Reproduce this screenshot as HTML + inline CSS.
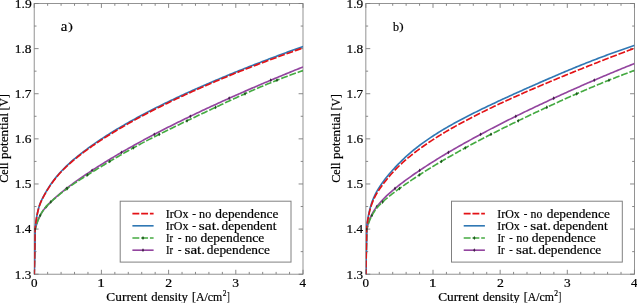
<!DOCTYPE html>
<html><head><meta charset="utf-8"><title>Polarization curves</title>
<style>
html,body{margin:0;padding:0;background:#fff;}
body{width:637px;height:303px;overflow:hidden;font-family:"Liberation Serif",serif;}
svg{display:block;will-change:transform;transform:translateZ(0)}
text{fill:#000}
</style></head><body>
<svg width="637" height="303" viewBox="0 0 637 303">
<rect width="637" height="303" fill="#fff"/>
<rect x="34.2" y="3.5" width="268.8" height="270.7" fill="none" stroke="#808080" stroke-width="0.85"/>
<path d="M34.20 274.2 v-4.4 M34.20 3.5 v4.4 M47.64 274.2 v-2.3 M47.64 3.5 v2.3 M61.08 274.2 v-2.3 M61.08 3.5 v2.3 M74.52 274.2 v-2.3 M74.52 3.5 v2.3 M87.96 274.2 v-2.3 M87.96 3.5 v2.3 M101.40 274.2 v-4.4 M101.40 3.5 v4.4 M114.84 274.2 v-2.3 M114.84 3.5 v2.3 M128.28 274.2 v-2.3 M128.28 3.5 v2.3 M141.72 274.2 v-2.3 M141.72 3.5 v2.3 M155.16 274.2 v-2.3 M155.16 3.5 v2.3 M168.60 274.2 v-4.4 M168.60 3.5 v4.4 M182.04 274.2 v-2.3 M182.04 3.5 v2.3 M195.48 274.2 v-2.3 M195.48 3.5 v2.3 M208.92 274.2 v-2.3 M208.92 3.5 v2.3 M222.36 274.2 v-2.3 M222.36 3.5 v2.3 M235.80 274.2 v-4.4 M235.80 3.5 v4.4 M249.24 274.2 v-2.3 M249.24 3.5 v2.3 M262.68 274.2 v-2.3 M262.68 3.5 v2.3 M276.12 274.2 v-2.3 M276.12 3.5 v2.3 M289.56 274.2 v-2.3 M289.56 3.5 v2.3 M303.00 274.2 v-4.4 M303.00 3.5 v4.4 M34.2 3.50 h4.4 M303.0 3.50 h-4.4 M34.2 26.06 h2.3 M303.0 26.06 h-2.3 M34.2 48.62 h4.4 M303.0 48.62 h-4.4 M34.2 71.17 h2.3 M303.0 71.17 h-2.3 M34.2 93.73 h4.4 M303.0 93.73 h-4.4 M34.2 116.29 h2.3 M303.0 116.29 h-2.3 M34.2 138.85 h4.4 M303.0 138.85 h-4.4 M34.2 161.41 h2.3 M303.0 161.41 h-2.3 M34.2 183.97 h4.4 M303.0 183.97 h-4.4 M34.2 206.52 h2.3 M303.0 206.52 h-2.3 M34.2 229.08 h4.4 M303.0 229.08 h-4.4 M34.2 251.64 h2.3 M303.0 251.64 h-2.3 M34.2 274.20 h4.4 M303.0 274.20 h-4.4" stroke="#7c7c7c" stroke-width="0.9" fill="none"/>
<clipPath id="ca"><rect x="34.2" y="3.5" width="268.8" height="270.7"/></clipPath>
<g clip-path="url(#ca)" fill="none" stroke-width="1.65" stroke-linejoin="round">
<path d="M34.20 276.20 L35.10 230.00 L35.57 228.22 L35.76 227.41 L35.95 226.64 L36.14 225.91 L36.33 225.21 L36.52 224.54 L36.71 223.90 L36.90 223.28 L37.09 222.69 L37.28 222.12 L37.47 221.56 L37.66 221.03 L37.85 220.52 L38.04 220.02 L38.23 219.54 L38.42 219.07 L38.61 218.62 L38.80 218.18 L38.99 217.76 L39.18 217.34 L39.37 216.94 L39.56 216.55 L39.75 216.17 L39.94 215.80 L40.12 215.44 L40.32 215.09 L40.51 214.75 L40.70 214.41 L40.89 214.08 L41.08 213.76 L41.26 213.45 L41.45 213.14 L41.64 212.84 L41.83 212.54 L42.02 212.25 L42.21 211.96 L42.40 211.68 L42.59 211.40 L42.78 211.13 L42.97 210.86 L43.16 210.60 L43.35 210.34 L43.54 210.08 L43.73 209.83 L43.92 209.58 L44.11 209.33 L44.30 209.09 L44.49 208.84 L44.68 208.61 L44.87 208.37 L45.06 208.14 L45.25 207.91 L45.44 207.68 L45.63 207.45 L45.82 207.23 L46.01 207.01 L46.20 206.79 L46.50 206.45 L47.93 204.87 L49.37 203.37 L50.80 201.93 L52.24 200.54 L53.67 199.20 L55.10 197.89 L56.54 196.62 L57.97 195.37 L59.41 194.16 L60.84 192.96 L62.28 191.79 L63.71 190.63 L65.14 189.50 L66.58 188.38 L68.01 187.28 L69.44 186.19 L70.88 185.12 L72.31 184.06 L73.75 183.01 L75.18 181.98 L76.62 180.95 L78.05 179.94 L79.48 178.93 L80.92 177.93 L82.35 176.95 L83.79 175.97 L85.22 174.99 L86.65 174.03 L88.09 173.07 L89.52 172.12 L90.96 171.18 L92.39 170.24 L93.83 169.31 L95.26 168.38 L96.69 167.46 L98.13 166.55 L99.56 165.64 L101.00 164.74 L102.43 163.84 L103.86 162.95 L105.30 162.06 L106.73 161.18 L108.17 160.30 L109.60 159.43 L111.03 158.56 L112.47 157.70 L113.90 156.84 L115.34 155.99 L116.77 155.15 L118.20 154.31 L119.64 153.47 L121.07 152.64 L122.51 151.81 L123.94 150.99 L125.37 150.17 L126.81 149.35 L128.24 148.54 L129.68 147.73 L131.11 146.93 L132.55 146.12 L133.98 145.33 L135.41 144.53 L136.85 143.74 L138.28 142.95 L139.72 142.17 L141.15 141.39 L142.58 140.61 L144.02 139.84 L145.45 139.06 L146.88 138.30 L148.32 137.53 L149.75 136.77 L151.19 136.01 L152.62 135.25 L154.06 134.50 L155.49 133.75 L156.92 133.00 L158.36 132.26 L159.79 131.51 L161.23 130.77 L162.66 130.04 L164.09 129.30 L165.53 128.57 L166.96 127.84 L168.40 127.11 L169.83 126.39 L171.26 125.67 L172.70 124.95 L174.13 124.23 L175.57 123.52 L177.00 122.81 L178.44 122.10 L179.87 121.39 L181.30 120.68 L182.74 119.98 L184.17 119.28 L185.61 118.58 L187.04 117.89 L188.47 117.19 L189.91 116.50 L191.34 115.81 L192.78 115.12 L194.21 114.44 L195.64 113.75 L197.08 113.07 L198.51 112.39 L199.95 111.72 L201.38 111.04 L202.81 110.37 L204.25 109.70 L205.68 109.03 L207.12 108.36 L208.55 107.69 L209.99 107.03 L211.42 106.37 L212.85 105.71 L214.29 105.05 L215.72 104.38 L217.16 103.72 L218.59 103.07 L220.02 102.41 L221.46 101.75 L222.89 101.10 L224.33 100.45 L225.76 99.80 L227.19 99.15 L228.63 98.51 L230.06 97.86 L231.50 97.22 L232.93 96.58 L234.36 95.94 L235.80 95.30 L237.23 94.66 L238.67 94.03 L240.10 93.39 L241.54 92.76 L242.97 92.13 L244.40 91.50 L245.84 90.88 L247.27 90.25 L248.70 89.63 L250.14 89.00 L251.57 88.38 L253.01 87.76 L254.44 87.14 L255.88 86.53 L257.31 85.91 L258.74 85.30 L260.18 84.68 L261.61 84.07 L263.05 83.46 L264.48 82.85 L265.91 82.24 L267.35 81.64 L268.78 81.03 L270.22 80.43 L271.65 79.83 L273.08 79.23 L274.52 78.63 L275.95 78.03 L277.39 77.43 L278.82 76.84 L280.25 76.24 L281.69 75.65 L283.12 75.06 L284.56 74.47 L285.99 73.88 L287.43 73.29 L288.86 72.70 L290.29 72.12 L291.73 71.53 L293.16 70.95 L294.60 70.36 L296.03 69.78 L297.46 69.20 L298.90 68.62 L300.33 68.05 L301.77 67.47 L303.20 66.90" stroke="#93459f"/>
<path d="M269.62 80.20 L270.77 78.30 L271.92 80.20 L270.77 82.10Z" fill="#43204a" stroke="none"/>
<path d="M228.06 98.24 L229.21 96.34 L230.36 98.24 L229.21 100.14Z" fill="#43204a" stroke="none"/>
<path d="M189.19 116.29 L190.34 114.39 L191.49 116.29 L190.34 118.19Z" fill="#43204a" stroke="none"/>
<path d="M153.21 134.34 L154.36 132.44 L155.51 134.34 L154.36 136.24Z" fill="#43204a" stroke="none"/>
<path d="M120.36 152.39 L121.51 150.49 L122.66 152.39 L121.51 154.29Z" fill="#43204a" stroke="none"/>
<path d="M90.95 170.43 L92.10 168.53 L93.25 170.43 L92.10 172.33Z" fill="#43204a" stroke="none"/>
<path d="M65.30 188.48 L66.45 186.58 L67.60 188.48 L66.45 190.38Z" fill="#43204a" stroke="none"/>
<path d="M45.28 206.53 L46.43 204.63 L47.58 206.53 L46.43 208.43Z" fill="#43204a" stroke="none"/>
<path d="M34.20 276.20 L35.10 230.00 L35.57 227.97 L35.76 227.25 L35.95 226.55 L36.14 225.88 L36.33 225.24 L36.52 224.62 L36.71 224.02 L36.90 223.44 L37.09 222.88 L37.28 222.33 L37.47 221.80 L37.66 221.29 L37.85 220.79 L38.04 220.30 L38.23 219.82 L38.42 219.36 L38.61 218.90 L38.80 218.46 L38.99 218.03 L39.18 217.60 L39.37 217.19 L39.56 216.79 L39.75 216.39 L39.94 216.00 L40.12 215.62 L40.32 215.25 L40.51 214.88 L40.70 214.53 L40.89 214.18 L41.08 213.83 L41.26 213.49 L41.45 213.16 L41.64 212.84 L41.83 212.52 L42.02 212.20 L42.21 211.89 L42.40 211.59 L42.59 211.29 L42.78 211.00 L42.97 210.72 L43.16 210.43 L43.35 210.16 L43.54 209.88 L43.73 209.61 L43.92 209.35 L44.11 209.09 L44.30 208.84 L44.49 208.59 L44.68 208.34 L44.87 208.09 L45.06 207.86 L45.25 207.62 L45.44 207.39 L45.63 207.16 L45.82 206.94 L46.01 206.72 L46.20 206.50 L46.50 206.16 L47.93 204.66 L49.37 203.26 L50.80 201.95 L52.24 200.69 L53.67 199.47 L55.10 198.25 L56.54 197.04 L57.97 195.83 L59.41 194.63 L60.84 193.45 L62.28 192.28 L63.71 191.15 L65.14 190.04 L66.58 188.97 L68.01 187.91 L69.44 186.88 L70.88 185.86 L72.31 184.86 L73.75 183.88 L75.18 182.91 L76.62 181.95 L78.05 181.00 L79.48 180.07 L80.92 179.14 L82.35 178.22 L83.79 177.30 L85.22 176.40 L86.65 175.50 L88.09 174.60 L89.52 173.71 L90.96 172.82 L92.39 171.94 L93.83 171.05 L95.26 170.18 L96.69 169.30 L98.13 168.42 L99.56 167.55 L101.00 166.68 L102.43 165.81 L103.86 164.94 L105.30 164.08 L106.73 163.22 L108.17 162.35 L109.60 161.50 L111.03 160.64 L112.47 159.79 L113.90 158.94 L115.34 158.10 L116.77 157.26 L118.20 156.43 L119.64 155.60 L121.07 154.77 L122.51 153.95 L123.94 153.13 L125.37 152.32 L126.81 151.51 L128.24 150.70 L129.68 149.90 L131.11 149.10 L132.55 148.31 L133.98 147.52 L135.41 146.74 L136.85 145.96 L138.28 145.18 L139.72 144.41 L141.15 143.64 L142.58 142.88 L144.02 142.12 L145.45 141.37 L146.88 140.62 L148.32 139.88 L149.75 139.14 L151.19 138.40 L152.62 137.67 L154.06 136.94 L155.49 136.21 L156.92 135.49 L158.36 134.77 L159.79 134.05 L161.23 133.33 L162.66 132.62 L164.09 131.91 L165.53 131.20 L166.96 130.50 L168.40 129.79 L169.83 129.09 L171.26 128.39 L172.70 127.69 L174.13 127.00 L175.57 126.30 L177.00 125.61 L178.44 124.92 L179.87 124.23 L181.30 123.54 L182.74 122.85 L184.17 122.17 L185.61 121.48 L187.04 120.80 L188.47 120.11 L189.91 119.43 L191.34 118.75 L192.78 118.06 L194.21 117.38 L195.64 116.70 L197.08 116.02 L198.51 115.34 L199.95 114.67 L201.38 113.99 L202.81 113.31 L204.25 112.63 L205.68 111.96 L207.12 111.28 L208.55 110.61 L209.99 109.93 L211.42 109.26 L212.85 108.59 L214.29 107.92 L215.72 107.24 L217.16 106.57 L218.59 105.89 L220.02 105.22 L221.46 104.55 L222.89 103.88 L224.33 103.21 L225.76 102.54 L227.19 101.87 L228.63 101.21 L230.06 100.54 L231.50 99.88 L232.93 99.22 L234.36 98.56 L235.80 97.90 L237.23 97.25 L238.67 96.59 L240.10 95.94 L241.54 95.30 L242.97 94.65 L244.40 94.01 L245.84 93.36 L247.27 92.73 L248.70 92.09 L250.14 91.46 L251.57 90.83 L253.01 90.20 L254.44 89.58 L255.88 88.95 L257.31 88.34 L258.74 87.72 L260.18 87.11 L261.61 86.50 L263.05 85.90 L264.48 85.29 L265.91 84.70 L267.35 84.10 L268.78 83.51 L270.22 82.92 L271.65 82.34 L273.08 81.76 L274.52 81.18 L275.95 80.61 L277.39 80.04 L278.82 79.47 L280.25 78.91 L281.69 78.36 L283.12 77.80 L284.56 77.25 L285.99 76.71 L287.43 76.16 L288.86 75.63 L290.29 75.09 L291.73 74.57 L293.16 74.04 L294.60 73.52 L296.03 73.00 L297.46 72.49 L298.90 71.98 L300.33 71.48 L301.77 70.98 L303.20 70.49" stroke="#45aa42" stroke-dasharray="6.9 1.85"/>
<path d="M275.84 80.20 L276.99 78.30 L278.14 80.20 L276.99 82.10Z" fill="#1d551c" stroke="none"/>
<path d="M243.86 93.73 L245.01 91.83 L246.16 93.73 L245.01 95.63Z" fill="#1d551c" stroke="none"/>
<path d="M214.52 107.27 L215.67 105.37 L216.82 107.27 L215.67 109.17Z" fill="#1d551c" stroke="none"/>
<path d="M185.87 120.80 L187.02 118.90 L188.17 120.80 L187.02 122.70Z" fill="#1d551c" stroke="none"/>
<path d="M158.06 134.34 L159.21 132.44 L160.36 134.34 L159.21 136.24Z" fill="#1d551c" stroke="none"/>
<path d="M132.19 147.87 L133.34 145.97 L134.49 147.87 L133.34 149.77Z" fill="#1d551c" stroke="none"/>
<path d="M108.60 161.41 L109.75 159.51 L110.90 161.41 L109.75 163.31Z" fill="#1d551c" stroke="none"/>
<path d="M86.39 174.94 L87.54 173.04 L88.69 174.94 L87.54 176.84Z" fill="#1d551c" stroke="none"/>
<path d="M66.09 188.48 L67.24 186.58 L68.39 188.48 L67.24 190.38Z" fill="#1d551c" stroke="none"/>
<path d="M49.59 202.01 L50.74 200.11 L51.89 202.01 L50.74 203.91Z" fill="#1d551c" stroke="none"/>
<path d="M39.01 215.55 L40.16 213.65 L41.31 215.55 L40.16 217.45Z" fill="#1d551c" stroke="none"/>
<path d="M34.20 276.20 L35.10 230.00 L35.19 226.99 L35.38 225.52 L35.57 224.10 L35.76 222.75 L35.95 221.44 L36.14 220.20 L36.33 219.01 L36.52 217.87 L36.71 216.78 L36.90 215.74 L37.09 214.74 L37.28 213.79 L37.47 212.88 L37.66 212.01 L37.85 211.17 L38.04 210.37 L38.23 209.61 L38.42 208.88 L38.61 208.18 L38.80 207.51 L38.99 206.87 L39.18 206.26 L39.37 205.68 L39.56 205.12 L39.75 204.58 L39.94 204.06 L40.12 203.56 L40.32 203.07 L40.51 202.60 L40.70 202.14 L40.89 201.69 L41.08 201.26 L41.26 200.84 L41.45 200.42 L41.64 200.02 L41.83 199.62 L42.02 199.23 L42.21 198.84 L42.40 198.46 L42.59 198.09 L42.78 197.72 L42.97 197.36 L43.16 197.00 L43.35 196.64 L43.54 196.29 L43.73 195.94 L43.92 195.59 L44.11 195.24 L44.30 194.90 L44.49 194.56 L44.68 194.22 L44.87 193.88 L45.06 193.54 L45.25 193.21 L45.44 192.87 L45.63 192.54 L45.82 192.21 L46.01 191.88 L46.20 191.55 L46.50 191.04 L47.93 188.66 L49.37 186.39 L50.80 184.23 L52.24 182.19 L53.67 180.25 L55.10 178.40 L56.54 176.63 L57.97 174.93 L59.41 173.30 L60.84 171.72 L62.28 170.20 L63.71 168.73 L65.14 167.31 L66.58 165.92 L68.01 164.57 L69.44 163.26 L70.88 161.97 L72.31 160.72 L73.75 159.49 L75.18 158.28 L76.62 157.10 L78.05 155.93 L79.48 154.78 L80.92 153.66 L82.35 152.54 L83.79 151.44 L85.22 150.36 L86.65 149.29 L88.09 148.24 L89.52 147.19 L90.96 146.16 L92.39 145.15 L93.83 144.14 L95.26 143.14 L96.69 142.16 L98.13 141.18 L99.56 140.22 L101.00 139.26 L102.43 138.32 L103.86 137.38 L105.30 136.45 L106.73 135.53 L108.17 134.62 L109.60 133.72 L111.03 132.82 L112.47 131.93 L113.90 131.05 L115.34 130.18 L116.77 129.31 L118.20 128.46 L119.64 127.60 L121.07 126.76 L122.51 125.92 L123.94 125.09 L125.37 124.26 L126.81 123.44 L128.24 122.62 L129.68 121.81 L131.11 121.01 L132.55 120.21 L133.98 119.42 L135.41 118.63 L136.85 117.85 L138.28 117.07 L139.72 116.29 L141.15 115.52 L142.58 114.76 L144.02 114.00 L145.45 113.24 L146.88 112.49 L148.32 111.75 L149.75 111.00 L151.19 110.26 L152.62 109.53 L154.06 108.80 L155.49 108.07 L156.92 107.35 L158.36 106.63 L159.79 105.91 L161.23 105.20 L162.66 104.49 L164.09 103.79 L165.53 103.09 L166.96 102.39 L168.40 101.69 L169.83 101.00 L171.26 100.31 L172.70 99.63 L174.13 98.95 L175.57 98.27 L177.00 97.59 L178.44 96.92 L179.87 96.25 L181.30 95.58 L182.74 94.92 L184.17 94.26 L185.61 93.60 L187.04 92.94 L188.47 92.29 L189.91 91.64 L191.34 90.99 L192.78 90.35 L194.21 89.70 L195.64 89.06 L197.08 88.42 L198.51 87.79 L199.95 87.16 L201.38 86.53 L202.81 85.90 L204.25 85.27 L205.68 84.65 L207.12 84.03 L208.55 83.41 L209.99 82.79 L211.42 82.18 L212.85 81.57 L214.29 80.96 L215.72 80.35 L217.16 79.74 L218.59 79.14 L220.02 78.53 L221.46 77.93 L222.89 77.33 L224.33 76.74 L225.76 76.14 L227.19 75.55 L228.63 74.96 L230.06 74.37 L231.50 73.78 L232.93 73.19 L234.36 72.61 L235.80 72.03 L237.23 71.45 L238.67 70.87 L240.10 70.29 L241.54 69.72 L242.97 69.14 L244.40 68.57 L245.84 68.00 L247.27 67.43 L248.70 66.87 L250.14 66.30 L251.57 65.74 L253.01 65.18 L254.44 64.62 L255.88 64.06 L257.31 63.50 L258.74 62.95 L260.18 62.40 L261.61 61.84 L263.05 61.29 L264.48 60.74 L265.91 60.20 L267.35 59.65 L268.78 59.10 L270.22 58.56 L271.65 58.02 L273.08 57.48 L274.52 56.94 L275.95 56.40 L277.39 55.86 L278.82 55.33 L280.25 54.80 L281.69 54.26 L283.12 53.73 L284.56 53.20 L285.99 52.67 L287.43 52.15 L288.86 51.62 L290.29 51.10 L291.73 50.57 L293.16 50.05 L294.60 49.53 L296.03 49.01 L297.46 48.49 L298.90 47.98 L300.33 47.46 L301.77 46.95 L303.20 46.43" stroke="#3078b4"/>
<path d="M34.20 276.20 L35.10 230.00 L35.19 227.30 L35.38 225.83 L35.57 224.42 L35.76 223.06 L35.95 221.76 L36.14 220.52 L36.33 219.33 L36.52 218.19 L36.71 217.10 L36.90 216.06 L37.09 215.07 L37.28 214.12 L37.47 213.21 L37.66 212.34 L37.85 211.50 L38.04 210.71 L38.23 209.94 L38.42 209.21 L38.61 208.52 L38.80 207.85 L38.99 207.21 L39.18 206.60 L39.37 206.02 L39.56 205.46 L39.75 204.93 L39.94 204.41 L40.12 203.91 L40.32 203.42 L40.51 202.95 L40.70 202.50 L40.89 202.05 L41.08 201.62 L41.26 201.20 L41.45 200.79 L41.64 200.38 L41.83 199.99 L42.02 199.59 L42.21 199.21 L42.40 198.84 L42.59 198.46 L42.78 198.10 L42.97 197.73 L43.16 197.38 L43.35 197.02 L43.54 196.67 L43.73 196.32 L43.92 195.97 L44.11 195.63 L44.30 195.29 L44.49 194.95 L44.68 194.61 L44.87 194.27 L45.06 193.94 L45.25 193.60 L45.44 193.27 L45.63 192.94 L45.82 192.61 L46.01 192.28 L46.20 191.96 L46.50 191.45 L47.93 189.08 L49.37 186.82 L50.80 184.68 L52.24 182.65 L53.67 180.72 L55.10 178.88 L56.54 177.12 L57.97 175.44 L59.41 173.82 L60.84 172.25 L62.28 170.75 L63.71 169.29 L65.14 167.88 L66.58 166.50 L68.01 165.17 L69.44 163.87 L70.88 162.60 L72.31 161.35 L73.75 160.13 L75.18 158.94 L76.62 157.77 L78.05 156.62 L79.48 155.48 L80.92 154.37 L82.35 153.26 L83.79 152.18 L85.22 151.11 L86.65 150.05 L88.09 149.01 L89.52 147.98 L90.96 146.96 L92.39 145.95 L93.83 144.96 L95.26 143.98 L96.69 143.00 L98.13 142.04 L99.56 141.09 L101.00 140.15 L102.43 139.21 L103.86 138.29 L105.30 137.37 L106.73 136.47 L108.17 135.57 L109.60 134.68 L111.03 133.79 L112.47 132.92 L113.90 132.05 L115.34 131.18 L116.77 130.31 L118.20 129.46 L119.64 128.60 L121.07 127.76 L122.51 126.92 L123.94 126.09 L125.37 125.26 L126.81 124.44 L128.24 123.62 L129.68 122.81 L131.11 122.01 L132.55 121.21 L133.98 120.42 L135.41 119.63 L136.85 118.85 L138.28 118.07 L139.72 117.29 L141.15 116.52 L142.58 115.76 L144.02 115.00 L145.45 114.24 L146.88 113.49 L148.32 112.75 L149.75 112.00 L151.19 111.26 L152.62 110.53 L154.06 109.80 L155.49 109.07 L156.92 108.35 L158.36 107.63 L159.79 106.91 L161.23 106.20 L162.66 105.49 L164.09 104.79 L165.53 104.09 L166.96 103.39 L168.40 102.69 L169.83 102.00 L171.26 101.31 L172.70 100.63 L174.13 99.95 L175.57 99.27 L177.00 98.59 L178.44 97.92 L179.87 97.25 L181.30 96.58 L182.74 95.92 L184.17 95.26 L185.61 94.60 L187.04 93.94 L188.47 93.29 L189.91 92.64 L191.34 91.99 L192.78 91.35 L194.21 90.70 L195.64 90.06 L197.08 89.42 L198.51 88.79 L199.95 88.16 L201.38 87.53 L202.81 86.90 L204.25 86.27 L205.68 85.65 L207.12 85.03 L208.55 84.41 L209.99 83.79 L211.42 83.18 L212.85 82.57 L214.29 81.96 L215.72 81.35 L217.16 80.74 L218.59 80.14 L220.02 79.53 L221.46 78.93 L222.89 78.33 L224.33 77.74 L225.76 77.14 L227.19 76.55 L228.63 75.96 L230.06 75.37 L231.50 74.78 L232.93 74.19 L234.36 73.61 L235.80 73.04 L237.23 72.47 L238.67 71.89 L240.10 71.33 L241.54 70.76 L242.97 70.20 L244.40 69.63 L245.84 69.07 L247.27 68.51 L248.70 67.95 L250.14 67.40 L251.57 66.84 L253.01 66.29 L254.44 65.74 L255.88 65.19 L257.31 64.64 L258.74 64.09 L260.18 63.55 L261.61 63.00 L263.05 62.46 L264.48 61.92 L265.91 61.38 L267.35 60.84 L268.78 60.31 L270.22 59.77 L271.65 59.24 L273.08 58.71 L274.52 58.18 L275.95 57.65 L277.39 57.12 L278.82 56.59 L280.25 56.07 L281.69 55.54 L283.12 55.02 L284.56 54.50 L285.99 53.98 L287.43 53.46 L288.86 52.94 L290.29 52.43 L291.73 51.91 L293.16 51.40 L294.60 50.88 L296.03 50.38 L297.46 49.87 L298.90 49.36 L300.33 48.85 L301.77 48.34 L303.20 47.84" stroke="#e31216" stroke-dasharray="6.9 1.85"/>
<path d="M34.10 229.08 L35.10 227.38 L36.10 229.08 L35.10 230.78Z" fill="#3a2a1c" stroke="none"/>
</g>
<rect x="120.20" y="201.2" width="170.8" height="60.9" fill="#fff" stroke="#808080" stroke-width="1"/>
<g fill="none" stroke-width="1.65">
<path d="M132.40 213.6 H153.60" stroke="#e31216" stroke-dasharray="6.9 1.85"/>
<path d="M132.40 225.8 H153.60" stroke="#3078b4"/>
<path d="M132.40 238.0 H153.60" stroke="#45aa42" stroke-dasharray="6.9 1.85"/>
<path d="M132.40 250.2 H153.60" stroke="#93459f"/>
</g>
<path d="M141.85 238.00 L143.00 236.10 L144.15 238.00 L143.00 239.90Z" fill="#1d551c" stroke="none"/>
<path d="M141.85 250.20 L143.00 248.30 L144.15 250.20 L143.00 252.10Z" fill="#43204a" stroke="none"/>
<rect x="365.85" y="3.5" width="268.6" height="270.7" fill="none" stroke="#808080" stroke-width="0.85"/>
<path d="M365.85 274.2 v-4.4 M365.85 3.5 v4.4 M379.28 274.2 v-2.3 M379.28 3.5 v2.3 M392.71 274.2 v-2.3 M392.71 3.5 v2.3 M406.14 274.2 v-2.3 M406.14 3.5 v2.3 M419.57 274.2 v-2.3 M419.57 3.5 v2.3 M433.00 274.2 v-4.4 M433.00 3.5 v4.4 M446.43 274.2 v-2.3 M446.43 3.5 v2.3 M459.86 274.2 v-2.3 M459.86 3.5 v2.3 M473.29 274.2 v-2.3 M473.29 3.5 v2.3 M486.72 274.2 v-2.3 M486.72 3.5 v2.3 M500.15 274.2 v-4.4 M500.15 3.5 v4.4 M513.58 274.2 v-2.3 M513.58 3.5 v2.3 M527.01 274.2 v-2.3 M527.01 3.5 v2.3 M540.44 274.2 v-2.3 M540.44 3.5 v2.3 M553.87 274.2 v-2.3 M553.87 3.5 v2.3 M567.30 274.2 v-4.4 M567.30 3.5 v4.4 M580.73 274.2 v-2.3 M580.73 3.5 v2.3 M594.16 274.2 v-2.3 M594.16 3.5 v2.3 M607.59 274.2 v-2.3 M607.59 3.5 v2.3 M621.02 274.2 v-2.3 M621.02 3.5 v2.3 M634.45 274.2 v-4.4 M634.45 3.5 v4.4 M365.85 3.50 h4.4 M634.45 3.50 h-4.4 M365.85 26.06 h2.3 M634.45 26.06 h-2.3 M365.85 48.62 h4.4 M634.45 48.62 h-4.4 M365.85 71.17 h2.3 M634.45 71.17 h-2.3 M365.85 93.73 h4.4 M634.45 93.73 h-4.4 M365.85 116.29 h2.3 M634.45 116.29 h-2.3 M365.85 138.85 h4.4 M634.45 138.85 h-4.4 M365.85 161.41 h2.3 M634.45 161.41 h-2.3 M365.85 183.97 h4.4 M634.45 183.97 h-4.4 M365.85 206.52 h2.3 M634.45 206.52 h-2.3 M365.85 229.08 h4.4 M634.45 229.08 h-4.4 M365.85 251.64 h2.3 M634.45 251.64 h-2.3 M365.85 274.20 h4.4 M634.45 274.20 h-4.4" stroke="#7c7c7c" stroke-width="0.9" fill="none"/>
<clipPath id="cb"><rect x="365.85" y="3.5" width="268.6" height="270.7"/></clipPath>
<g clip-path="url(#cb)" fill="none" stroke-width="1.65" stroke-linejoin="round">
<path d="M365.85 276.20 L366.75 230.00 L367.22 227.85 L367.41 226.91 L367.60 226.04 L367.79 225.23 L367.98 224.47 L368.17 223.77 L368.36 223.10 L368.55 222.46 L368.74 221.85 L368.93 221.28 L369.12 220.72 L369.31 220.19 L369.50 219.67 L369.69 219.18 L369.88 218.69 L370.07 218.23 L370.26 217.78 L370.45 217.34 L370.64 216.91 L370.83 216.50 L371.02 216.09 L371.21 215.69 L371.40 215.31 L371.59 214.93 L371.78 214.56 L371.97 214.19 L372.16 213.84 L372.35 213.49 L372.54 213.15 L372.73 212.81 L372.91 212.48 L373.10 212.16 L373.29 211.84 L373.48 211.52 L373.67 211.21 L373.86 210.90 L374.05 210.60 L374.24 210.31 L374.43 210.01 L374.62 209.72 L374.81 209.44 L375.00 209.16 L375.19 208.88 L375.38 208.60 L375.57 208.33 L375.76 208.06 L375.95 207.80 L376.14 207.54 L376.33 207.28 L376.52 207.02 L376.71 206.77 L376.90 206.51 L377.09 206.27 L377.28 206.02 L377.47 205.77 L377.66 205.53 L377.85 205.29 L378.15 204.92 L379.58 203.19 L381.02 201.56 L382.45 200.01 L383.89 198.52 L385.32 197.09 L386.75 195.71 L388.19 194.38 L389.62 193.08 L391.06 191.81 L392.49 190.58 L393.93 189.37 L395.36 188.19 L396.79 187.03 L398.23 185.89 L399.66 184.77 L401.10 183.66 L402.53 182.57 L403.96 181.50 L405.40 180.44 L406.83 179.39 L408.27 178.35 L409.70 177.32 L411.13 176.30 L412.57 175.29 L414.00 174.29 L415.44 173.30 L416.87 172.32 L418.30 171.35 L419.74 170.38 L421.17 169.42 L422.61 168.47 L424.04 167.52 L425.48 166.59 L426.91 165.65 L428.34 164.73 L429.78 163.81 L431.21 162.90 L432.65 161.99 L434.08 161.09 L435.51 160.19 L436.95 159.30 L438.38 158.41 L439.82 157.53 L441.25 156.66 L442.68 155.79 L444.12 154.92 L445.55 154.06 L446.99 153.21 L448.42 152.36 L449.85 151.52 L451.29 150.68 L452.72 149.85 L454.16 149.02 L455.59 148.20 L457.02 147.37 L458.46 146.56 L459.89 145.74 L461.33 144.93 L462.76 144.13 L464.20 143.32 L465.63 142.52 L467.06 141.73 L468.50 140.93 L469.93 140.14 L471.37 139.36 L472.80 138.57 L474.23 137.79 L475.67 137.01 L477.10 136.24 L478.54 135.47 L479.97 134.70 L481.40 133.93 L482.84 133.17 L484.27 132.41 L485.71 131.65 L487.14 130.89 L488.57 130.14 L490.01 129.39 L491.44 128.64 L492.88 127.90 L494.31 127.15 L495.74 126.41 L497.18 125.67 L498.61 124.94 L500.05 124.20 L501.48 123.47 L502.92 122.74 L504.35 122.02 L505.78 121.29 L507.22 120.57 L508.65 119.85 L510.09 119.13 L511.52 118.42 L512.95 117.71 L514.39 116.99 L515.82 116.28 L517.26 115.58 L518.69 114.87 L520.12 114.17 L521.56 113.47 L522.99 112.77 L524.43 112.08 L525.86 111.38 L527.29 110.69 L528.73 110.00 L530.16 109.31 L531.60 108.63 L533.03 107.94 L534.47 107.26 L535.90 106.58 L537.33 105.90 L538.77 105.23 L540.20 104.55 L541.63 103.88 L543.07 103.21 L544.50 102.54 L545.94 101.88 L547.37 101.20 L548.81 100.53 L550.24 99.87 L551.67 99.20 L553.11 98.53 L554.54 97.87 L555.98 97.21 L557.41 96.55 L558.84 95.90 L560.28 95.24 L561.71 94.59 L563.15 93.94 L564.58 93.28 L566.01 92.64 L567.45 91.99 L568.88 91.34 L570.32 90.70 L571.75 90.06 L573.19 89.42 L574.62 88.78 L576.05 88.15 L577.49 87.51 L578.92 86.88 L580.36 86.25 L581.79 85.62 L583.22 84.99 L584.66 84.36 L586.09 83.74 L587.53 83.11 L588.96 82.49 L590.39 81.87 L591.83 81.25 L593.26 80.64 L594.70 80.02 L596.13 79.41 L597.56 78.79 L599.00 78.18 L600.43 77.57 L601.87 76.96 L603.30 76.36 L604.73 75.75 L606.17 75.15 L607.60 74.55 L609.04 73.95 L610.47 73.35 L611.90 72.75 L613.34 72.15 L614.77 71.56 L616.21 70.97 L617.64 70.37 L619.08 69.78 L620.51 69.19 L621.94 68.61 L623.38 68.02 L624.81 67.44 L626.25 66.85 L627.68 66.27 L629.11 65.69 L630.55 65.11 L631.98 64.53 L633.42 63.95 L634.85 63.38" stroke="#93459f"/>
<path d="M593.13 80.20 L594.28 78.30 L595.43 80.20 L594.28 82.10Z" fill="#43204a" stroke="none"/>
<path d="M552.59 98.24 L553.74 96.34 L554.89 98.24 L553.74 100.14Z" fill="#43204a" stroke="none"/>
<path d="M514.66 116.29 L515.81 114.39 L516.96 116.29 L515.81 118.19Z" fill="#43204a" stroke="none"/>
<path d="M479.49 134.34 L480.64 132.44 L481.79 134.34 L480.64 136.24Z" fill="#43204a" stroke="none"/>
<path d="M447.23 152.39 L448.38 150.49 L449.53 152.39 L448.38 154.29Z" fill="#43204a" stroke="none"/>
<path d="M418.51 170.43 L419.66 168.53 L420.81 170.43 L419.66 172.33Z" fill="#43204a" stroke="none"/>
<path d="M393.86 188.48 L395.01 186.58 L396.16 188.48 L395.01 190.38Z" fill="#43204a" stroke="none"/>
<path d="M375.74 206.53 L376.89 204.63 L378.04 206.53 L376.89 208.43Z" fill="#43204a" stroke="none"/>
<path d="M365.85 276.20 L366.75 230.00 L367.22 227.99 L367.41 227.19 L367.60 226.45 L367.79 225.75 L367.98 225.08 L368.17 224.45 L368.36 223.85 L368.55 223.27 L368.74 222.72 L368.93 222.18 L369.12 221.66 L369.31 221.16 L369.50 220.68 L369.69 220.21 L369.88 219.76 L370.07 219.31 L370.26 218.88 L370.45 218.46 L370.64 218.05 L370.83 217.65 L371.02 217.26 L371.21 216.88 L371.40 216.50 L371.59 216.13 L371.78 215.78 L371.97 215.42 L372.16 215.08 L372.35 214.74 L372.54 214.41 L372.73 214.08 L372.91 213.76 L373.10 213.44 L373.29 213.13 L373.48 212.83 L373.67 212.53 L373.86 212.23 L374.05 211.94 L374.24 211.66 L374.43 211.37 L374.62 211.09 L374.81 210.82 L375.00 210.55 L375.19 210.28 L375.38 210.02 L375.57 209.76 L375.76 209.51 L375.95 209.25 L376.14 209.00 L376.33 208.76 L376.52 208.51 L376.71 208.28 L376.90 208.04 L377.09 207.81 L377.28 207.57 L377.47 207.34 L377.66 207.12 L377.85 206.90 L378.15 206.55 L379.58 204.97 L381.02 203.49 L382.45 202.09 L383.89 200.77 L385.32 199.50 L386.75 198.28 L388.19 197.09 L389.62 195.93 L391.06 194.80 L392.49 193.69 L393.93 192.60 L395.36 191.52 L396.79 190.46 L398.23 189.41 L399.66 188.36 L401.10 187.33 L402.53 186.31 L403.96 185.30 L405.40 184.30 L406.83 183.31 L408.27 182.32 L409.70 181.34 L411.13 180.37 L412.57 179.41 L414.00 178.46 L415.44 177.51 L416.87 176.57 L418.30 175.64 L419.74 174.71 L421.17 173.79 L422.61 172.88 L424.04 171.97 L425.48 171.07 L426.91 170.17 L428.34 169.28 L429.78 168.39 L431.21 167.51 L432.65 166.63 L434.08 165.76 L435.51 164.89 L436.95 164.03 L438.38 163.17 L439.82 162.32 L441.25 161.47 L442.68 160.63 L444.12 159.78 L445.55 158.95 L446.99 158.12 L448.42 157.30 L449.85 156.48 L451.29 155.66 L452.72 154.85 L454.16 154.04 L455.59 153.24 L457.02 152.44 L458.46 151.64 L459.89 150.84 L461.33 150.05 L462.76 149.26 L464.20 148.48 L465.63 147.70 L467.06 146.92 L468.50 146.14 L469.93 145.37 L471.37 144.60 L472.80 143.83 L474.23 143.07 L475.67 142.31 L477.10 141.55 L478.54 140.79 L479.97 140.04 L481.40 139.29 L482.84 138.54 L484.27 137.79 L485.71 137.05 L487.14 136.31 L488.57 135.57 L490.01 134.83 L491.44 134.10 L492.88 133.37 L494.31 132.64 L495.74 131.91 L497.18 131.19 L498.61 130.47 L500.05 129.75 L501.48 129.03 L502.92 128.31 L504.35 127.60 L505.78 126.89 L507.22 126.18 L508.65 125.47 L510.09 124.76 L511.52 124.06 L512.95 123.36 L514.39 122.66 L515.82 121.96 L517.26 121.26 L518.69 120.57 L520.12 119.88 L521.56 119.18 L522.99 118.50 L524.43 117.81 L525.86 117.12 L527.29 116.44 L528.73 115.76 L530.16 115.08 L531.60 114.40 L533.03 113.72 L534.47 113.05 L535.90 112.37 L537.33 111.70 L538.77 111.03 L540.20 110.36 L541.63 109.70 L543.07 109.03 L544.50 108.37 L545.94 107.70 L547.37 107.04 L548.81 106.37 L550.24 105.71 L551.67 105.04 L553.11 104.38 L554.54 103.72 L555.98 103.07 L557.41 102.41 L558.84 101.76 L560.28 101.10 L561.71 100.45 L563.15 99.80 L564.58 99.15 L566.01 98.51 L567.45 97.86 L568.88 97.22 L570.32 96.58 L571.75 95.95 L573.19 95.31 L574.62 94.68 L576.05 94.04 L577.49 93.41 L578.92 92.79 L580.36 92.16 L581.79 91.54 L583.22 90.92 L584.66 90.30 L586.09 89.69 L587.53 89.07 L588.96 88.46 L590.39 87.85 L591.83 87.25 L593.26 86.64 L594.70 86.04 L596.13 85.44 L597.56 84.85 L599.00 84.26 L600.43 83.66 L601.87 83.08 L603.30 82.49 L604.73 81.91 L606.17 81.33 L607.60 80.75 L609.04 80.17 L610.47 79.60 L611.90 79.03 L613.34 78.47 L614.77 77.90 L616.21 77.34 L617.64 76.78 L619.08 76.23 L620.51 75.67 L621.94 75.12 L623.38 74.57 L624.81 74.03 L626.25 73.49 L627.68 72.95 L629.11 72.41 L630.55 71.88 L631.98 71.35 L633.42 70.82 L634.85 70.30" stroke="#45aa42" stroke-dasharray="6.9 1.85"/>
<path d="M607.83 80.20 L608.98 78.30 L610.13 80.20 L608.98 82.10Z" fill="#1d551c" stroke="none"/>
<path d="M575.61 93.73 L576.76 91.83 L577.91 93.73 L576.76 95.63Z" fill="#1d551c" stroke="none"/>
<path d="M545.72 107.27 L546.87 105.37 L548.02 107.27 L546.87 109.17Z" fill="#1d551c" stroke="none"/>
<path d="M517.05 120.80 L518.20 118.90 L519.35 120.80 L518.20 122.70Z" fill="#1d551c" stroke="none"/>
<path d="M489.83 134.34 L490.98 132.44 L492.13 134.34 L490.98 136.24Z" fill="#1d551c" stroke="none"/>
<path d="M464.16 147.87 L465.31 145.97 L466.46 147.87 L465.31 149.77Z" fill="#1d551c" stroke="none"/>
<path d="M440.20 161.41 L441.35 159.51 L442.50 161.41 L441.35 163.31Z" fill="#1d551c" stroke="none"/>
<path d="M418.23 174.94 L419.38 173.04 L420.53 174.94 L419.38 176.84Z" fill="#1d551c" stroke="none"/>
<path d="M398.35 188.48 L399.50 186.58 L400.65 188.48 L399.50 190.38Z" fill="#1d551c" stroke="none"/>
<path d="M381.39 202.01 L382.54 200.11 L383.69 202.01 L382.54 203.91Z" fill="#1d551c" stroke="none"/>
<path d="M370.75 215.55 L371.90 213.65 L373.05 215.55 L371.90 217.45Z" fill="#1d551c" stroke="none"/>
<path d="M365.85 276.20 L366.60 230.00 L366.65 226.41 L366.84 225.08 L367.03 223.78 L367.22 222.54 L367.41 221.33 L367.60 220.17 L367.79 219.06 L367.98 217.99 L368.17 216.95 L368.36 215.95 L368.55 214.99 L368.74 214.06 L368.93 213.16 L369.12 212.30 L369.31 211.46 L369.50 210.65 L369.69 209.87 L369.88 209.11 L370.07 208.38 L370.26 207.67 L370.45 206.98 L370.64 206.31 L370.83 205.67 L371.02 205.05 L371.21 204.44 L371.40 203.85 L371.59 203.28 L371.78 202.72 L371.97 202.18 L372.16 201.65 L372.35 201.14 L372.54 200.63 L372.73 200.14 L372.91 199.66 L373.10 199.19 L373.29 198.73 L373.48 198.28 L373.67 197.83 L373.86 197.40 L374.05 196.97 L374.24 196.55 L374.43 196.14 L374.62 195.73 L374.81 195.33 L375.00 194.94 L375.19 194.55 L375.38 194.17 L375.57 193.80 L375.76 193.43 L375.95 193.06 L376.14 192.70 L376.33 192.35 L376.52 192.00 L376.71 191.65 L376.90 191.31 L377.09 190.97 L377.28 190.64 L377.47 190.31 L377.66 189.98 L377.85 189.66 L378.15 189.15 L379.58 186.85 L381.02 184.69 L382.45 182.65 L383.89 180.70 L385.32 178.83 L386.75 177.02 L388.19 175.28 L389.62 173.58 L391.06 171.93 L392.49 170.31 L393.93 168.73 L395.36 167.18 L396.79 165.66 L398.23 164.18 L399.66 162.72 L401.10 161.29 L402.53 159.89 L403.96 158.53 L405.40 157.19 L406.83 155.89 L408.27 154.61 L409.70 153.36 L411.13 152.14 L412.57 150.94 L414.00 149.76 L415.44 148.61 L416.87 147.48 L418.30 146.37 L419.74 145.28 L421.17 144.20 L422.61 143.15 L424.04 142.11 L425.48 141.10 L426.91 140.09 L428.34 139.10 L429.78 138.13 L431.21 137.16 L432.65 136.22 L434.08 135.28 L435.51 134.36 L436.95 133.45 L438.38 132.55 L439.82 131.66 L441.25 130.78 L442.68 129.91 L444.12 129.05 L445.55 128.20 L446.99 127.37 L448.42 126.54 L449.85 125.73 L451.29 124.92 L452.72 124.12 L454.16 123.32 L455.59 122.54 L457.02 121.76 L458.46 120.99 L459.89 120.22 L461.33 119.46 L462.76 118.70 L464.20 117.95 L465.63 117.21 L467.06 116.47 L468.50 115.74 L469.93 115.01 L471.37 114.28 L472.80 113.56 L474.23 112.84 L475.67 112.13 L477.10 111.42 L478.54 110.71 L479.97 110.01 L481.40 109.31 L482.84 108.61 L484.27 107.92 L485.71 107.22 L487.14 106.54 L488.57 105.85 L490.01 105.17 L491.44 104.48 L492.88 103.81 L494.31 103.13 L495.74 102.45 L497.18 101.78 L498.61 101.11 L500.05 100.44 L501.48 99.78 L502.92 99.11 L504.35 98.45 L505.78 97.79 L507.22 97.13 L508.65 96.47 L510.09 95.82 L511.52 95.16 L512.95 94.51 L514.39 93.86 L515.82 93.21 L517.26 92.56 L518.69 91.91 L520.12 91.27 L521.56 90.63 L522.99 89.98 L524.43 89.34 L525.86 88.70 L527.29 88.07 L528.73 87.43 L530.16 86.79 L531.60 86.16 L533.03 85.52 L534.47 84.89 L535.90 84.26 L537.33 83.63 L538.77 83.00 L540.20 82.38 L541.63 81.75 L543.07 81.13 L544.50 80.51 L545.94 79.88 L547.37 79.26 L548.81 78.63 L550.24 78.01 L551.67 77.39 L553.11 76.77 L554.54 76.15 L555.98 75.53 L557.41 74.92 L558.84 74.31 L560.28 73.70 L561.71 73.09 L563.15 72.48 L564.58 71.88 L566.01 71.28 L567.45 70.68 L568.88 70.08 L570.32 69.48 L571.75 68.89 L573.19 68.30 L574.62 67.71 L576.05 67.12 L577.49 66.54 L578.92 65.96 L580.36 65.38 L581.79 64.80 L583.22 64.23 L584.66 63.66 L586.09 63.09 L587.53 62.52 L588.96 61.96 L590.39 61.40 L591.83 60.84 L593.26 60.28 L594.70 59.72 L596.13 59.17 L597.56 58.62 L599.00 58.08 L600.43 57.53 L601.87 56.99 L603.30 56.45 L604.73 55.92 L606.17 55.38 L607.60 54.85 L609.04 54.33 L610.47 53.80 L611.90 53.28 L613.34 52.76 L614.77 52.24 L616.21 51.72 L617.64 51.21 L619.08 50.70 L620.51 50.20 L621.94 49.69 L623.38 49.19 L624.81 48.69 L626.25 48.20 L627.68 47.71 L629.11 47.21 L630.55 46.73 L631.98 46.24 L633.42 45.76 L634.85 45.28" stroke="#3078b4"/>
<path d="M365.85 276.20 L366.60 230.00 L366.65 227.58 L366.84 226.24 L367.03 224.93 L367.22 223.67 L367.41 222.46 L367.60 221.30 L367.79 220.18 L367.98 219.10 L368.17 218.07 L368.36 217.08 L368.55 216.13 L368.74 215.21 L368.93 214.33 L369.12 213.48 L369.31 212.67 L369.50 211.88 L369.69 211.12 L369.88 210.38 L370.07 209.67 L370.26 208.98 L370.45 208.31 L370.64 207.67 L370.83 207.04 L371.02 206.43 L371.21 205.84 L371.40 205.26 L371.59 204.70 L371.78 204.15 L371.97 203.62 L372.16 203.10 L372.35 202.60 L372.54 202.10 L372.73 201.63 L372.91 201.16 L373.10 200.70 L373.29 200.26 L373.48 199.82 L373.67 199.40 L373.86 198.98 L374.05 198.57 L374.24 198.17 L374.43 197.78 L374.62 197.40 L374.81 197.02 L375.00 196.65 L375.19 196.28 L375.38 195.93 L375.57 195.57 L375.76 195.22 L375.95 194.88 L376.14 194.54 L376.33 194.21 L376.52 193.88 L376.71 193.56 L376.90 193.24 L377.09 192.92 L377.28 192.60 L377.47 192.29 L377.66 191.99 L377.85 191.69 L378.15 191.21 L379.58 189.04 L381.02 186.98 L382.45 185.00 L383.89 183.09 L385.32 181.23 L386.75 179.42 L388.19 177.67 L389.62 175.97 L391.06 174.32 L392.49 172.72 L393.93 171.16 L395.36 169.66 L396.79 168.19 L398.23 166.77 L399.66 165.38 L401.10 164.03 L402.53 162.71 L403.96 161.42 L405.40 160.16 L406.83 158.93 L408.27 157.72 L409.70 156.53 L411.13 155.37 L412.57 154.23 L414.00 153.10 L415.44 152.00 L416.87 150.91 L418.30 149.84 L419.74 148.79 L421.17 147.75 L422.61 146.72 L424.04 145.71 L425.48 144.72 L426.91 143.73 L428.34 142.76 L429.78 141.80 L431.21 140.85 L432.65 139.91 L434.08 138.99 L435.51 138.07 L436.95 137.16 L438.38 136.26 L439.82 135.37 L441.25 134.49 L442.68 133.62 L444.12 132.75 L445.55 131.89 L446.99 131.05 L448.42 130.21 L449.85 129.39 L451.29 128.57 L452.72 127.75 L454.16 126.94 L455.59 126.14 L457.02 125.34 L458.46 124.55 L459.89 123.77 L461.33 122.99 L462.76 122.22 L464.20 121.45 L465.63 120.69 L467.06 119.93 L468.50 119.18 L469.93 118.43 L471.37 117.68 L472.80 116.94 L474.23 116.21 L475.67 115.48 L477.10 114.75 L478.54 114.03 L479.97 113.31 L481.40 112.60 L482.84 111.88 L484.27 111.18 L485.71 110.47 L487.14 109.77 L488.57 109.08 L490.01 108.38 L491.44 107.69 L492.88 107.01 L494.31 106.33 L495.74 105.64 L497.18 104.97 L498.61 104.29 L500.05 103.62 L501.48 102.95 L502.92 102.29 L504.35 101.63 L505.78 100.96 L507.22 100.31 L508.65 99.65 L510.09 99.00 L511.52 98.35 L512.95 97.70 L514.39 97.06 L515.82 96.41 L517.26 95.78 L518.69 95.14 L520.12 94.50 L521.56 93.87 L522.99 93.24 L524.43 92.61 L525.86 91.98 L527.29 91.35 L528.73 90.73 L530.16 90.11 L531.60 89.49 L533.03 88.87 L534.47 88.26 L535.90 87.64 L537.33 87.03 L538.77 86.42 L540.20 85.81 L541.63 85.21 L543.07 84.60 L544.50 84.00 L545.94 83.40 L547.37 82.79 L548.81 82.18 L550.24 81.58 L551.67 80.98 L553.11 80.38 L554.54 79.78 L555.98 79.18 L557.41 78.58 L558.84 77.99 L560.28 77.39 L561.71 76.80 L563.15 76.21 L564.58 75.62 L566.01 75.03 L567.45 74.45 L568.88 73.86 L570.32 73.28 L571.75 72.69 L573.19 72.11 L574.62 71.53 L576.05 70.95 L577.49 70.38 L578.92 69.80 L580.36 69.22 L581.79 68.65 L583.22 68.08 L584.66 67.50 L586.09 66.93 L587.53 66.36 L588.96 65.79 L590.39 65.23 L591.83 64.66 L593.26 64.09 L594.70 63.53 L596.13 62.97 L597.56 62.40 L599.00 61.84 L600.43 61.28 L601.87 60.72 L603.30 60.16 L604.73 59.60 L606.17 59.05 L607.60 58.49 L609.04 57.94 L610.47 57.38 L611.90 56.83 L613.34 56.27 L614.77 55.72 L616.21 55.17 L617.64 54.62 L619.08 54.07 L620.51 53.52 L621.94 52.98 L623.38 52.43 L624.81 51.88 L626.25 51.34 L627.68 50.80 L629.11 50.25 L630.55 49.71 L631.98 49.17 L633.42 48.63 L634.85 48.09" stroke="#e31216" stroke-dasharray="6.9 1.85"/>
<path d="M365.75 229.08 L366.75 227.38 L367.75 229.08 L366.75 230.78Z" fill="#3a2a1c" stroke="none"/>
</g>
<rect x="451.50" y="201.2" width="170.8" height="60.9" fill="#fff" stroke="#808080" stroke-width="1"/>
<g fill="none" stroke-width="1.65">
<path d="M463.70 213.6 H484.90" stroke="#e31216" stroke-dasharray="6.9 1.85"/>
<path d="M463.70 225.8 H484.90" stroke="#3078b4"/>
<path d="M463.70 238.0 H484.90" stroke="#45aa42" stroke-dasharray="6.9 1.85"/>
<path d="M463.70 250.2 H484.90" stroke="#93459f"/>
</g>
<path d="M473.15 238.00 L474.30 236.10 L475.45 238.00 L474.30 239.90Z" fill="#1d551c" stroke="none"/>
<path d="M473.15 250.20 L474.30 248.30 L475.45 250.20 L474.30 252.10Z" fill="#43204a" stroke="none"/>
<g stroke="#000" stroke-width="0.2" style="will-change:transform">
<text x="106.38" y="301.20" style="font-family:'Liberation Serif',serif;font-size:12.0px" textLength="40.77" lengthAdjust="spacingAndGlyphs">Current</text>
<text x="151.22" y="301.20" style="font-family:'Liberation Serif',serif;font-size:12.0px" textLength="36.63" lengthAdjust="spacingAndGlyphs">density</text>
<text x="192.06" y="301.20" style="font-family:'Liberation Serif',serif;font-size:12.0px" textLength="30.24" lengthAdjust="spacingAndGlyphs">[A/cm</text>
<text x="222.64" y="296.00" style="font-family:'Liberation Serif',serif;font-size:8.0px" textLength="3.66" lengthAdjust="spacingAndGlyphs">2</text>
<text x="226.98" y="301.20" style="font-family:'Liberation Serif',serif;font-size:12.0px" textLength="2.70" lengthAdjust="spacingAndGlyphs">]</text>
<text transform="translate(8.30 182.80) rotate(-90)" style="font-family:'Liberation Serif',serif;font-size:12.0px" textLength="20.30" lengthAdjust="spacingAndGlyphs">Cell</text>
<text transform="translate(8.30 159.08) rotate(-90)" style="font-family:'Liberation Serif',serif;font-size:12.0px" textLength="46.15" lengthAdjust="spacingAndGlyphs">potential</text>
<text transform="translate(8.30 110.25) rotate(-90)" style="font-family:'Liberation Serif',serif;font-size:12.0px" textLength="16.00" lengthAdjust="spacingAndGlyphs">[V]</text>
<text x="165.80" y="217.85" style="font-family:'Liberation Serif',serif;font-size:12.0px" textLength="22.68" lengthAdjust="spacingAndGlyphs">IrOx</text>
<text x="192.27" y="217.85" style="font-family:'Liberation Serif',serif;font-size:12.0px" textLength="3.73" lengthAdjust="spacingAndGlyphs">-</text>
<text x="199.13" y="217.85" style="font-family:'Liberation Serif',serif;font-size:12.0px" textLength="12.08" lengthAdjust="spacingAndGlyphs">no</text>
<text x="215.27" y="217.85" style="font-family:'Liberation Serif',serif;font-size:12.0px" textLength="63.25" lengthAdjust="spacingAndGlyphs">dependence</text>
<text x="165.80" y="229.85" style="font-family:'Liberation Serif',serif;font-size:12.0px" textLength="22.68" lengthAdjust="spacingAndGlyphs">IrOx</text>
<text x="192.27" y="229.85" style="font-family:'Liberation Serif',serif;font-size:12.0px" textLength="3.73" lengthAdjust="spacingAndGlyphs">-</text>
<text x="198.88" y="229.85" style="font-family:'Liberation Serif',serif;font-size:12.0px" textLength="20.90" lengthAdjust="spacingAndGlyphs">sat.</text>
<text x="221.50" y="229.85" style="font-family:'Liberation Serif',serif;font-size:12.0px" textLength="54.85" lengthAdjust="spacingAndGlyphs">dependent</text>
<text x="166.03" y="241.95" style="font-family:'Liberation Serif',serif;font-size:12.0px" textLength="7.12" lengthAdjust="spacingAndGlyphs">Ir</text>
<text x="177.92" y="241.95" style="font-family:'Liberation Serif',serif;font-size:12.0px" textLength="3.48" lengthAdjust="spacingAndGlyphs">-</text>
<text x="184.92" y="241.95" style="font-family:'Liberation Serif',serif;font-size:12.0px" textLength="12.28" lengthAdjust="spacingAndGlyphs">no</text>
<text x="200.40" y="241.95" style="font-family:'Liberation Serif',serif;font-size:12.0px" textLength="64.00" lengthAdjust="spacingAndGlyphs">dependence</text>
<text x="166.03" y="254.10" style="font-family:'Liberation Serif',serif;font-size:12.0px" textLength="7.12" lengthAdjust="spacingAndGlyphs">Ir</text>
<text x="177.92" y="254.10" style="font-family:'Liberation Serif',serif;font-size:12.0px" textLength="3.48" lengthAdjust="spacingAndGlyphs">-</text>
<text x="184.57" y="254.10" style="font-family:'Liberation Serif',serif;font-size:12.0px" textLength="20.50" lengthAdjust="spacingAndGlyphs">sat.</text>
<text x="206.77" y="254.10" style="font-family:'Liberation Serif',serif;font-size:12.0px" textLength="63.13" lengthAdjust="spacingAndGlyphs">dependence</text>
<text x="30.93" y="286.60" style="font-family:'Liberation Serif',serif;font-size:12.0px" textLength="6.53" lengthAdjust="spacingAndGlyphs">0</text>
<text x="97.33" y="286.60" style="font-family:'Liberation Serif',serif;font-size:12.0px" textLength="7.65" lengthAdjust="spacingAndGlyphs">1</text>
<text x="165.23" y="286.60" style="font-family:'Liberation Serif',serif;font-size:12.0px" textLength="6.90" lengthAdjust="spacingAndGlyphs">2</text>
<text x="232.38" y="286.60" style="font-family:'Liberation Serif',serif;font-size:12.0px" textLength="6.77" lengthAdjust="spacingAndGlyphs">3</text>
<text x="299.48" y="286.60" style="font-family:'Liberation Serif',serif;font-size:12.0px" textLength="6.52" lengthAdjust="spacingAndGlyphs">4</text>
<text x="14.75" y="7.80" style="font-family:'Liberation Serif',serif;font-size:12.0px" textLength="16.95" lengthAdjust="spacingAndGlyphs">1.9</text>
<text x="14.75" y="52.92" style="font-family:'Liberation Serif',serif;font-size:12.0px" textLength="16.82" lengthAdjust="spacingAndGlyphs">1.8</text>
<text x="14.75" y="98.03" style="font-family:'Liberation Serif',serif;font-size:12.0px" textLength="16.70" lengthAdjust="spacingAndGlyphs">1.7</text>
<text x="14.75" y="143.15" style="font-family:'Liberation Serif',serif;font-size:12.0px" textLength="16.70" lengthAdjust="spacingAndGlyphs">1.6</text>
<text x="14.75" y="188.27" style="font-family:'Liberation Serif',serif;font-size:12.0px" textLength="16.82" lengthAdjust="spacingAndGlyphs">1.5</text>
<text x="14.88" y="233.38" style="font-family:'Liberation Serif',serif;font-size:12.0px" textLength="16.45" lengthAdjust="spacingAndGlyphs">1.4</text>
<text x="14.88" y="278.50" style="font-family:'Liberation Serif',serif;font-size:12.0px" textLength="16.45" lengthAdjust="spacingAndGlyphs">1.3</text>
<text x="438.15" y="301.20" style="font-family:'Liberation Serif',serif;font-size:12.0px" textLength="40.65" lengthAdjust="spacingAndGlyphs">Current</text>
<text x="482.75" y="301.20" style="font-family:'Liberation Serif',serif;font-size:12.0px" textLength="36.85" lengthAdjust="spacingAndGlyphs">density</text>
<text x="523.87" y="301.20" style="font-family:'Liberation Serif',serif;font-size:12.0px" textLength="30.12" lengthAdjust="spacingAndGlyphs">[A/cm</text>
<text x="554.15" y="296.00" style="font-family:'Liberation Serif',serif;font-size:8.0px" textLength="3.79" lengthAdjust="spacingAndGlyphs">2</text>
<text x="558.62" y="301.20" style="font-family:'Liberation Serif',serif;font-size:12.0px" textLength="2.69" lengthAdjust="spacingAndGlyphs">]</text>
<text transform="translate(339.95 182.80) rotate(-90)" style="font-family:'Liberation Serif',serif;font-size:12.0px" textLength="20.30" lengthAdjust="spacingAndGlyphs">Cell</text>
<text transform="translate(339.95 159.08) rotate(-90)" style="font-family:'Liberation Serif',serif;font-size:12.0px" textLength="46.15" lengthAdjust="spacingAndGlyphs">potential</text>
<text transform="translate(339.95 110.25) rotate(-90)" style="font-family:'Liberation Serif',serif;font-size:12.0px" textLength="16.00" lengthAdjust="spacingAndGlyphs">[V]</text>
<text x="497.32" y="217.85" style="font-family:'Liberation Serif',serif;font-size:12.0px" textLength="22.52" lengthAdjust="spacingAndGlyphs">IrOx</text>
<text x="523.80" y="217.85" style="font-family:'Liberation Serif',serif;font-size:12.0px" textLength="3.60" lengthAdjust="spacingAndGlyphs">-</text>
<text x="530.62" y="217.85" style="font-family:'Liberation Serif',serif;font-size:12.0px" textLength="11.85" lengthAdjust="spacingAndGlyphs">no</text>
<text x="546.70" y="217.85" style="font-family:'Liberation Serif',serif;font-size:12.0px" textLength="63.20" lengthAdjust="spacingAndGlyphs">dependence</text>
<text x="497.32" y="229.85" style="font-family:'Liberation Serif',serif;font-size:12.0px" textLength="22.52" lengthAdjust="spacingAndGlyphs">IrOx</text>
<text x="523.80" y="229.85" style="font-family:'Liberation Serif',serif;font-size:12.0px" textLength="3.60" lengthAdjust="spacingAndGlyphs">-</text>
<text x="530.30" y="229.85" style="font-family:'Liberation Serif',serif;font-size:12.0px" textLength="20.78" lengthAdjust="spacingAndGlyphs">sat.</text>
<text x="552.90" y="229.85" style="font-family:'Liberation Serif',serif;font-size:12.0px" textLength="54.75" lengthAdjust="spacingAndGlyphs">dependent</text>
<text x="497.40" y="241.95" style="font-family:'Liberation Serif',serif;font-size:12.0px" textLength="7.25" lengthAdjust="spacingAndGlyphs">Ir</text>
<text x="509.32" y="241.95" style="font-family:'Liberation Serif',serif;font-size:12.0px" textLength="3.45" lengthAdjust="spacingAndGlyphs">-</text>
<text x="516.33" y="241.95" style="font-family:'Liberation Serif',serif;font-size:12.0px" textLength="12.15" lengthAdjust="spacingAndGlyphs">no</text>
<text x="531.83" y="241.95" style="font-family:'Liberation Serif',serif;font-size:12.0px" textLength="63.97" lengthAdjust="spacingAndGlyphs">dependence</text>
<text x="497.40" y="254.10" style="font-family:'Liberation Serif',serif;font-size:12.0px" textLength="7.25" lengthAdjust="spacingAndGlyphs">Ir</text>
<text x="509.32" y="254.10" style="font-family:'Liberation Serif',serif;font-size:12.0px" textLength="3.45" lengthAdjust="spacingAndGlyphs">-</text>
<text x="516.00" y="254.10" style="font-family:'Liberation Serif',serif;font-size:12.0px" textLength="20.60" lengthAdjust="spacingAndGlyphs">sat.</text>
<text x="538.23" y="254.10" style="font-family:'Liberation Serif',serif;font-size:12.0px" textLength="63.07" lengthAdjust="spacingAndGlyphs">dependence</text>
<text x="362.60" y="286.60" style="font-family:'Liberation Serif',serif;font-size:12.0px" textLength="6.52" lengthAdjust="spacingAndGlyphs">0</text>
<text x="428.88" y="286.60" style="font-family:'Liberation Serif',serif;font-size:12.0px" textLength="7.90" lengthAdjust="spacingAndGlyphs">1</text>
<text x="496.90" y="286.60" style="font-family:'Liberation Serif',serif;font-size:12.0px" textLength="6.90" lengthAdjust="spacingAndGlyphs">2</text>
<text x="564.05" y="286.60" style="font-family:'Liberation Serif',serif;font-size:12.0px" textLength="6.65" lengthAdjust="spacingAndGlyphs">3</text>
<text x="631.13" y="286.60" style="font-family:'Liberation Serif',serif;font-size:12.0px" textLength="6.52" lengthAdjust="spacingAndGlyphs">4</text>
<text x="346.55" y="7.80" style="font-family:'Liberation Serif',serif;font-size:12.0px" textLength="16.70" lengthAdjust="spacingAndGlyphs">1.9</text>
<text x="346.55" y="52.92" style="font-family:'Liberation Serif',serif;font-size:12.0px" textLength="16.70" lengthAdjust="spacingAndGlyphs">1.8</text>
<text x="346.55" y="98.03" style="font-family:'Liberation Serif',serif;font-size:12.0px" textLength="16.58" lengthAdjust="spacingAndGlyphs">1.7</text>
<text x="346.55" y="143.15" style="font-family:'Liberation Serif',serif;font-size:12.0px" textLength="16.70" lengthAdjust="spacingAndGlyphs">1.6</text>
<text x="346.55" y="188.27" style="font-family:'Liberation Serif',serif;font-size:12.0px" textLength="16.70" lengthAdjust="spacingAndGlyphs">1.5</text>
<text x="346.55" y="233.38" style="font-family:'Liberation Serif',serif;font-size:12.0px" textLength="16.45" lengthAdjust="spacingAndGlyphs">1.4</text>
<text x="346.55" y="278.50" style="font-family:'Liberation Serif',serif;font-size:12.0px" textLength="16.45" lengthAdjust="spacingAndGlyphs">1.3</text>
<text x="60.68" y="30.60" style="font-family:'Liberation Serif',serif;font-size:14.0px" textLength="6.60" lengthAdjust="spacingAndGlyphs">a</text>
<text x="68.30" y="29.70" style="font-family:'Liberation Serif',serif;font-size:11.0px" textLength="4.55" lengthAdjust="spacingAndGlyphs">)</text>
<text x="392.97" y="30.60" style="font-family:'Liberation Serif',serif;font-size:12.6px" textLength="6.05" lengthAdjust="spacingAndGlyphs">b</text>
<text x="399.30" y="29.70" style="font-family:'Liberation Serif',serif;font-size:11.0px" textLength="4.35" lengthAdjust="spacingAndGlyphs">)</text>
</g>
</svg>
</body></html>
